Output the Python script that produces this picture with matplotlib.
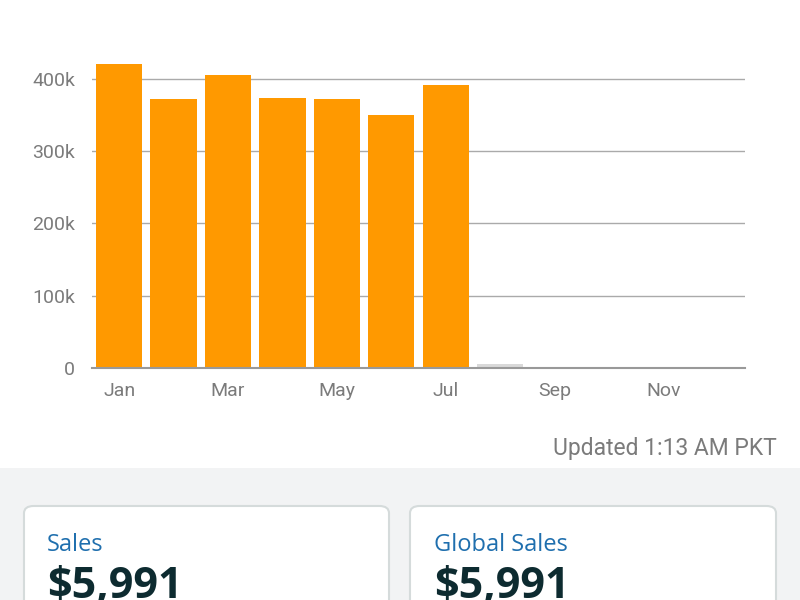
import matplotlib
matplotlib.use("Agg")
import matplotlib.pyplot as plt
from matplotlib.patches import FancyBboxPatch, Rectangle

months = ["Jan","Feb","Mar","Apr","May","Jun","Jul","Aug","Sep","Oct","Nov","Dec"]
sales = [420000, 372000, 405000, 374000, 372000, 350000, 391000, 5000, 0, 0, 0, 0]
bar_colors = ["#ff9900"]*7 + ["#d9d9d9"]*5
yticks = [0, 100000, 200000, 300000, 400000]
ytick_labels = ["0", "100k", "200k", "300k", "400k"]
xtick_idx = [0, 2, 4, 6, 8, 10]

fig = plt.figure(figsize=(8, 6), dpi=100)
fig.patch.set_facecolor("white")

fig.patches.append(Rectangle((0, 0), 1, (600-468)/600, transform=fig.transFigure,
                             facecolor="#f2f3f4", edgecolor="none", zorder=0))
for x0, x1 in [(24, 389), (410, 776)]:
    fig.patches.append(FancyBboxPatch((x0/800, -0.05), (x1-x0)/800, (600-506)/600 + 0.05,
                                      boxstyle="round,pad=0,rounding_size=0.012",
                                      transform=fig.transFigure, facecolor="white",
                                      edgecolor="#d5dbdb", linewidth=1.5, zorder=1))
for x, label in [(47, "Sales"), (434, "Global Sales")]:
    fig.text(x/800, 1-545/600, label, fontsize=17, color="#1f6fae", family="Open Sans",
             va="center", ha="left", zorder=2)
    fig.text(x/800, 1-587/600, "$5,991", fontsize=31, color="#0d2b30", family="Open Sans",
             fontweight="bold", va="center", ha="left", zorder=2)

fig.text(777/800, 1-448/600, "Updated 1:13 AM PKT", fontsize=16.5, color="#7b7b7b",
         family="Roboto", ha="right", va="center")

ax = fig.add_axes([92/800, (600-368)/600, (745-92)/800, 318/600])
ax.bar(range(12), sales, width=0.85, color=bar_colors, zorder=2)
ax.set_xlim(-0.5, 11.5)
ax.set_ylim(0, 440000)
ax.set_yticks(yticks)
ax.set_yticklabels(ytick_labels)
ax.set_xticks(xtick_idx)
ax.set_xticklabels([months[i] for i in xtick_idx])
ax.grid(axis="y", color="#aaaaaa", linewidth=1, zorder=0)
for s in ["top", "right", "left"]:
    ax.spines[s].set_visible(False)
ax.spines["bottom"].set_color("#999999")
ax.spines["bottom"].set_linewidth(1.5)
ax.tick_params(length=0, labelsize=14, labelcolor="#7b7b7b", pad=10)
for t in ax.get_xticklabels() + ax.get_yticklabels():
    t.set_family("Roboto")
ax.tick_params(axis="y", pad=12)

fig.savefig("out.png", dpi=100)
